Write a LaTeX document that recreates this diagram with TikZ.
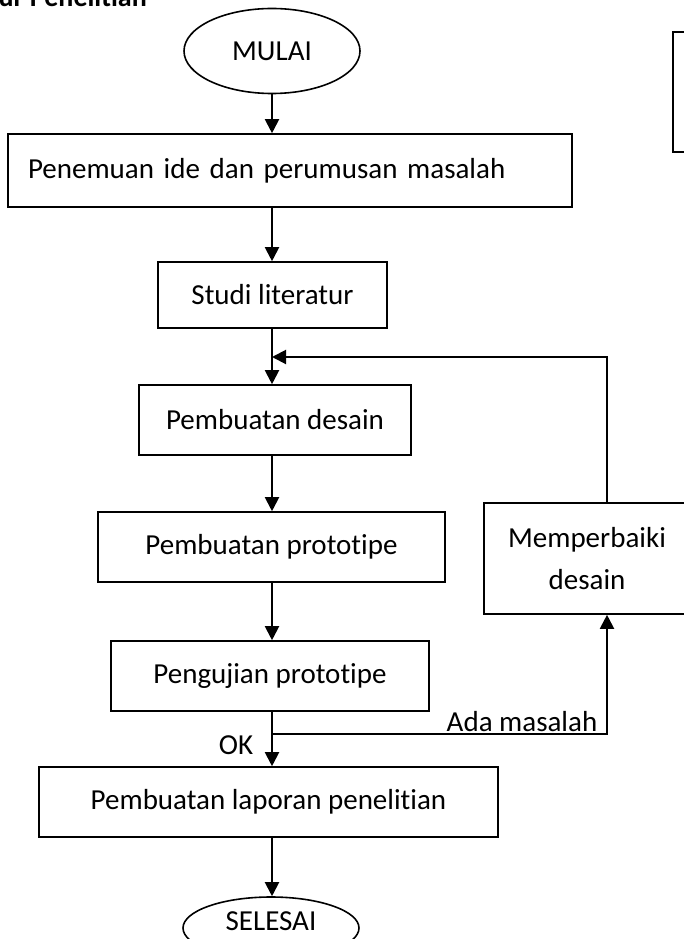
\documentclass[tikz,border=0pt]{standalone}
\usepackage{fontspec}
\setmainfont{Carlito}[Ligatures={NoCommon,NoRequired,NoContextual}]
\usetikzlibrary{shapes.geometric,arrows.meta}
\begin{document}
\begin{tikzpicture}[x=1pt,y=-1pt,
  every node/.style={font=\fontsize{29}{34}\selectfont},
  box/.style={draw, line width=1.6pt, rectangle, inner sep=0pt, align=center},
  term/.style={draw, line width=1.6pt, ellipse, inner sep=0pt},
  arr/.style={line width=2pt, -{Triangle[width=14pt,length=14pt]}},
  lbl/.style={inner sep=0pt}
]
\useasboundingbox (0,0) rectangle (684,939);
\clip (0,0) rectangle (684,939);
\node[lbl, anchor=base east, font=\fontsize{28}{33}\selectfont\bfseries] (title) at (147,7) {Alur Penelitian};
\node[term, minimum width=176pt, minimum height=85pt] (mulai) at (272,51) {MULAI};
\node[box, minimum width=564pt, minimum height=73pt, text width=524pt, inner xsep=20pt, align=left] (b1) at (290,170.5) {Penemuan ide dan perumusan masalah};
\node[box, minimum width=229pt, minimum height=66pt] (b2) at (272.5,295) {Studi literatur};
\node[box, minimum width=272pt, minimum height=70pt] (b3) at (275,420) {Pembuatan desain};
\node[box, minimum width=347pt, minimum height=70pt] (b4) at (271.5,547) {Pembuatan prototipe};
\node[box, minimum width=318pt, minimum height=70pt] (b5) at (270,676) {Pengujian prototipe};
\node[box, minimum width=459pt, minimum height=70pt] (b6) at (268.5,802) {Pembuatan laporan penelitian};
\node[box, minimum width=206pt, minimum height=111pt, font=\fontsize{29}{42}\selectfont] (b7) at (587,558.5) {Memperbaiki\\desain};
\node[box, minimum width=27pt, minimum height=120pt] (tr) at (686.5,92) {};
\node[term, minimum width=176pt, minimum height=62pt, text height=20pt, text depth=16pt] (selesai) at (271,928) {SELESAI};

\coordinate (col) at (272,0);
\coordinate (fx) at (607,0);
\coordinate (j1) at (272,357);
\coordinate (j2) at (272,734);

\draw[arr] (col |- mulai.south) -- (col |- b1.north);
\draw[arr] (col |- b1.south) -- (col |- b2.north);
\draw[arr] (col |- b2.south) -- (col |- b3.north);
\draw[arr] (col |- b3.south) -- (col |- b4.north);
\draw[arr] (col |- b4.south) -- (col |- b5.north);
\draw[arr] (col |- b5.south) -- (col |- b6.north);
\draw[arr] (col |- b6.south) -- (col |- selesai.north);
\draw[arr] (j2) -- (fx |- j2) -- (fx |- b7.south);
\draw[arr] (fx |- b7.north) -- (fx |- j1) -- (j1);

\node[lbl] (ok) at (236,745) {OK};
\node[lbl, anchor=base] (ada) at (522,731) {Ada masalah};
\end{tikzpicture}
\end{document}
